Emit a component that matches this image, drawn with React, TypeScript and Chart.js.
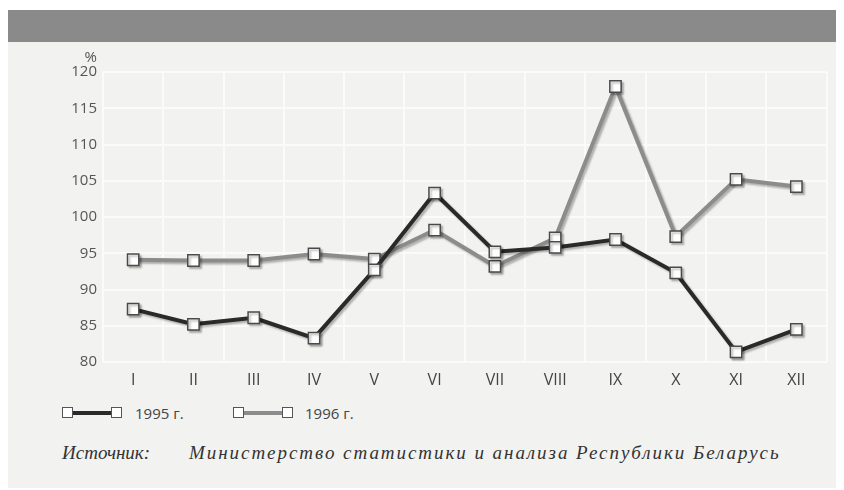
import React, { useEffect, useRef } from "react";
import { Chart, registerables } from "chart.js";

Chart.register(...registerables);

const months = ["I", "II", "III", "IV", "V", "VI", "VII", "VIII", "IX", "X", "XI", "XII"];
const values1995 = [87.3, 85.2, 86.1, 83.3, 92.7, 103.3, 95.2, 95.8, 96.9, 92.3, 81.4, 84.5];
const values1996 = [94.1, 94.0, 94.0, 94.9, 94.2, 98.2, 93.2, 97.1, 118.0, 97.3, 105.2, 104.2];
const seriesLabels = ["1995 г.", "1996 г."];
const seriesColors = ["#2a2a2a", "#8c8c8c"];
const yMin = 80;
const yMax = 120;
const yStep = 5;
const yUnit = "%";
const sourceLabel = "Источник:";
const sourceText = "Министерство статистики и анализа Республики Беларусь";

const FONT = "'Open Sans', 'Noto Sans', sans-serif";

const shadowPlugin = {
  id: "shadowPlugin",
  beforeDatasetsDraw(chart: any) {
    const ctx = chart.ctx;
    ctx.save();
    ctx.shadowColor = "rgba(0,0,0,0.28)";
    ctx.shadowOffsetX = 2;
    ctx.shadowOffsetY = 2;
    ctx.shadowBlur = 2;
  },
  afterDatasetsDraw(chart: any) {
    chart.ctx.restore();
  },
};

const unitPlugin = {
  id: "unitPlugin",
  afterDraw(chart: any) {
    const ctx = chart.ctx;
    const y = chart.scales.y;
    ctx.save();
    ctx.font = `15px ${FONT}`;
    ctx.fillStyle = "#555";
    ctx.textAlign = "right";
    ctx.textBaseline = "middle";
    ctx.fillText(yUnit, y.right - 6, chart.chartArea.top - 14);
    ctx.restore();
  },
};

function LegendSymbol({ color, left }: { color: string; left: number }) {
  const sq: React.CSSProperties = {
    position: "absolute",
    top: 0,
    width: 9,
    height: 9,
    background: "#fff",
    border: "1.5px solid #555",
  };
  return (
    <div style={{ position: "absolute", left, top: 397, width: 60, height: 12 }}>
      <div style={{ position: "absolute", left: 8, right: 8, top: 4, height: 4, background: color }} />
      <div style={{ ...sq, left: 0 }} />
      <div style={{ ...sq, right: 0 }} />
    </div>
  );
}

export default function App() {
  const ref = useRef<HTMLCanvasElement | null>(null);

  useEffect(() => {
    if (!ref.current) return;
    const makeDs = (label: string, data: number[], color: string) => ({
      label,
      data,
      borderColor: color,
      borderWidth: 4,
      pointStyle: "rect",
      pointRadius: 8,
      pointHoverRadius: 8,
      pointBackgroundColor: "#ffffff",
      pointBorderColor: "#4a4a4a",
      pointBorderWidth: 1.5,
      tension: 0,
    });
    const chart = new Chart(ref.current, {
      type: "line",
      data: {
        labels: months,
        datasets: [
          makeDs(seriesLabels[0], values1995, seriesColors[0]),
          makeDs(seriesLabels[1], values1996, seriesColors[1]),
        ],
      },
      options: {
        responsive: false,
        animation: false,
        layout: { padding: { left: 0, right: 8, top: 30, bottom: 0 } },
        plugins: {
          legend: { display: false },
          tooltip: { enabled: false },
        },
        scales: {
          x: {
            offset: true,
            grid: { color: "#fbfbfa", lineWidth: 2, drawTicks: false, offset: true },
            border: { display: false },
            ticks: { color: "#444", font: { family: FONT, size: 16 }, padding: 9 },
            afterFit(scale: any) {
              scale.height = 36;
            },
          },
          y: {
            min: yMin,
            max: yMax,
            grid: { color: "#fbfbfa", lineWidth: 2, drawTicks: false },
            border: { display: false },
            ticks: { stepSize: yStep, color: "#555", font: { family: FONT, size: 15 }, padding: 6 },
            afterFit(scale: any) {
              scale.width = 95;
            },
          },
        },
      } as any,
      plugins: [shadowPlugin, unitPlugin],
    });
    return () => chart.destroy();
  }, []);

  const legendText: React.CSSProperties = {
    position: "absolute",
    top: 392,
    fontSize: 15,
    color: "#444",
    lineHeight: "22px",
  };

  return (
    <div style={{ paddingTop: 2 }}>
      <div
        style={{
          position: "relative",
          width: 828,
          height: 478,
          background: "#f2f2f0",
          fontFamily: FONT,
          overflow: "hidden",
        }}
      >
        <div style={{ height: 32, background: "#8a8a8a" }} />
        <canvas ref={ref} width={828} height={356} style={{ position: "absolute", left: 0, top: 32 }} />
        <LegendSymbol color={seriesColors[0]} left={54} />
        <div style={{ ...legendText, left: 127 }}>{seriesLabels[0]}</div>
        <LegendSymbol color={seriesColors[1]} left={225} />
        <div style={{ ...legendText, left: 297 }}>{seriesLabels[1]}</div>
        <div
          style={{
            position: "absolute",
            left: 54,
            top: 430,
            fontFamily: "'Liberation Serif', serif",
            fontStyle: "italic",
            fontSize: 19,
            color: "#333",
            lineHeight: "26px",
            whiteSpace: "nowrap",
          }}
        >
          <span>{sourceLabel}</span>
          <span style={{ position: "absolute", left: 127, letterSpacing: 1.95 }}>{sourceText}</span>
        </div>
      </div>
    </div>
  );
}
